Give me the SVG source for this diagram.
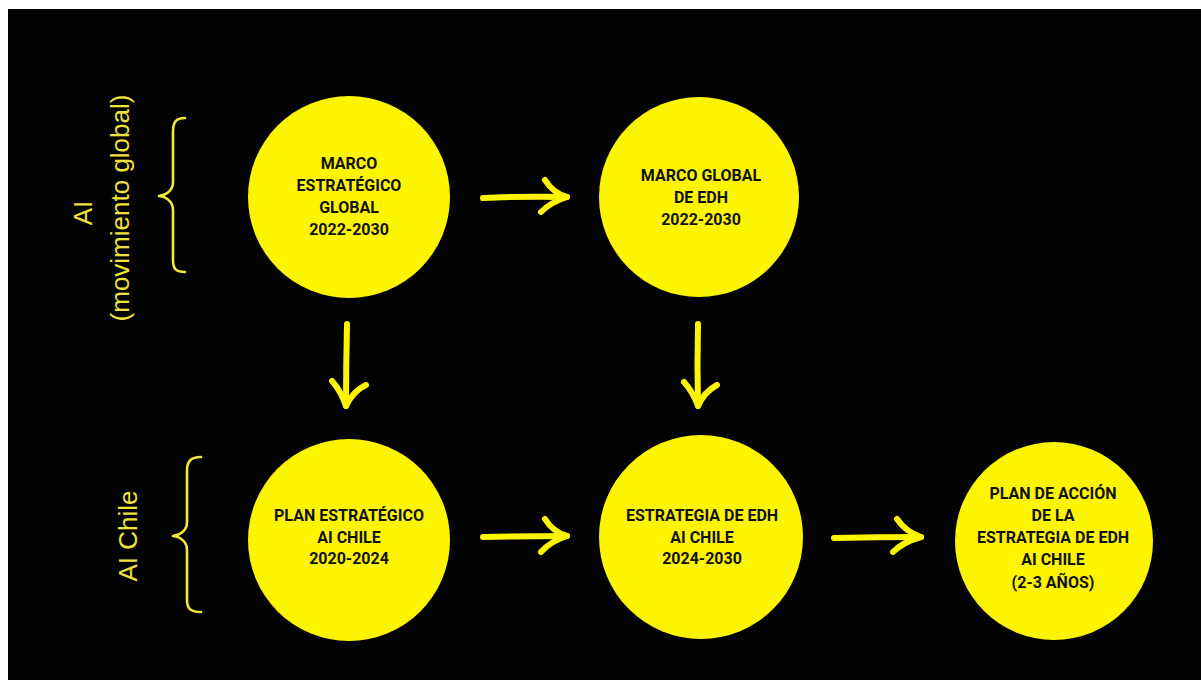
<svg xmlns="http://www.w3.org/2000/svg" width="1201" height="680" viewBox="0 0 1201 680">
  <style>
    .node circle { fill: #FDF500; }
    .node text { font-family: Roboto, "Liberation Sans", sans-serif; font-weight: 700; font-size: 16px; fill: #111; text-anchor: middle; }
    .lbl { font-family: "Liberation Sans", Arial, sans-serif; font-weight: 400; font-size: 26px; fill: #EDE33A; text-anchor: middle; }
    .brace { fill: none; stroke: #F2EA3A; stroke-width: 2.6; stroke-linecap: round; stroke-linejoin: round; }
    .arrow { fill: none; stroke: #FDF500; stroke-width: 6; stroke-linecap: round; stroke-linejoin: round; }
  </style>
  <rect x="0" y="0" width="1201" height="680" fill="#ffffff"/>
  <rect x="8" y="9" width="1193" height="671" fill="#030303"/>

  <g id="group-labels">
    <text class="lbl" transform="translate(92,213) rotate(-90)">AI</text>
    <text class="lbl" transform="translate(129,208) rotate(-90)">(movimiento global)</text>
    <text class="lbl" transform="translate(137,536) rotate(-90)">AI Chile</text>
    <path class="brace" d="M185,118 C176,118 173,122 173,132 L173,182 C173,190 167,195 159,196 C167,197 173,202 173,210 L173,260 C173,269 176,272 185,272"/>
    <path class="brace" d="M201,457 C191,457 187,461 187,471 L187,522 C187,530 181,535 173,536 C181,537 187,542 187,550 L187,600 C187,609 191,612 201,612"/>
  </g>

  <g id="connectors">
    <g id="e1">
      <path class="arrow" d="M483,198 Q525,196 567,197"/>
      <path class="arrow" d="M545,180 Q553,193 567,197 Q551,202 541,212"/>
    </g>
    <g id="e2">
      <path class="arrow" d="M483,537 Q525,536 567,536"/>
      <path class="arrow" d="M545,519 Q553,532 567,536 Q551,541 541,552"/>
    </g>
    <g id="e3">
      <path class="arrow" d="M834,538 Q878,537 921,537"/>
      <path class="arrow" d="M897,519 Q906,532 921,537 Q903,542 893,552"/>
    </g>
    <g id="e4">
      <path class="arrow" d="M347,324 Q346,366 346,406"/>
      <path class="arrow" d="M332,381 Q341,391 346,406 Q353,391 366,385"/>
    </g>
    <g id="e5">
      <path class="arrow" d="M698,324 Q697,366 698,406"/>
      <path class="arrow" d="M684,382 Q693,392 698,406 Q704,392 717,385"/>
    </g>
  </g>

  <g id="n1" class="node">
    <circle cx="349" cy="197" r="101"/>
    <text x="349" y="169">MARCO</text>
    <text x="349" y="191">ESTRATÉGICO</text>
    <text x="349" y="213">GLOBAL</text>
    <text x="349" y="235">2022-2030</text>
  </g>
  <g id="n2" class="node">
    <circle cx="699" cy="197" r="100"/>
    <text x="701" y="181">MARCO GLOBAL</text>
    <text x="701" y="203">DE EDH</text>
    <text x="701" y="225">2022-2030</text>
  </g>
  <g id="n3" class="node">
    <circle cx="349" cy="540" r="101"/>
    <text x="349" y="521">PLAN ESTRATÉGICO</text>
    <text x="349" y="543">AI CHILE</text>
    <text x="349" y="564">2020-2024</text>
  </g>
  <g id="n4" class="node">
    <circle cx="701" cy="537" r="102"/>
    <text x="702" y="521">ESTRATEGIA DE EDH</text>
    <text x="702" y="543">AI CHILE</text>
    <text x="702" y="564">2024-2030</text>
  </g>
  <g id="n5" class="node">
    <circle cx="1054" cy="541" r="99"/>
    <text x="1053" y="499">PLAN DE ACCIÓN</text>
    <text x="1053" y="521">DE LA</text>
    <text x="1053" y="543">ESTRATEGIA DE EDH</text>
    <text x="1053" y="565">AI CHILE</text>
    <text x="1053" y="588">(2-3 AÑOS)</text>
  </g>
</svg>
